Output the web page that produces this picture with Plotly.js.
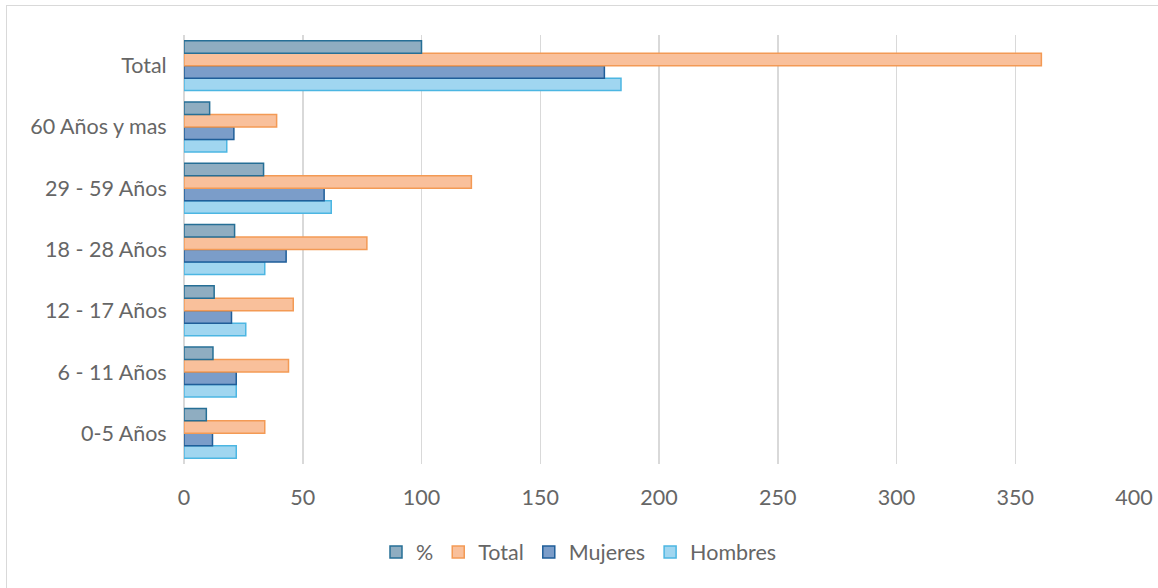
<!DOCTYPE html>
<html>
<head>
<meta charset="utf-8">
<script src="https://cdn.plot.ly/plotly-3.0.1.min.js"></script>
<style>
  html, body { margin: 0; padding: 0; background: #fff; }
  #wrap { position: relative; width: 1158px; height: 588px; overflow: hidden; }
  #chart { width: 1158px; height: 588px; }
  #frame { position: absolute; left: 6px; top: 5px; width: 1160px; height: 590px; border: 1px solid #d9d9d9; pointer-events: none; }
</style>
</head>
<body>
<div id="wrap"><div id="chart"></div><div id="frame"></div></div>
<script>
const categories = ["0-5 Años", "6 - 11 Años", "12 - 17 Años", "18 - 28 Años", "29 - 59 Años", "60 Años y mas", "Total"];
const pct      = [9.4, 12.2, 12.7, 21.3, 33.5, 10.8, 100];
const total    = [34, 44, 46, 77, 121, 39, 361];
const mujeres  = [12, 22, 20, 43, 59, 21, 177];
const hombres  = [22, 22, 26, 34, 62, 18, 184];
const xTicks   = [0, 50, 100, 150, 200, 250, 300, 350, 400];

const font = "Lato, 'Open Sans', sans-serif";
const txt = "#666666";
const fs = 21.5;

function bar(name, vals, fill, line) {
  return { type: "bar", orientation: "h", name: name, x: vals, y: categories,
    marker: { color: fill, line: { color: line, width: 1.5 } }, hoverinfo: "x+name" };
}

const data = [
  bar("Hombres", hombres, "#a0d6f0", "#4cb6e2"),
  bar("Mujeres", mujeres, "#7b9dc9", "#1f5e99"),
  bar("Total", total, "#f9c09b", "#f39a55"),
  bar("%", pct, "#8fadc1", "#266f96")
];

const layout = {
  width: 1158, height: 588,
  margin: { l: 184, r: 24, t: 35, b: 124 },
  paper_bgcolor: "#fff", plot_bgcolor: "#fff",
  barmode: "group", bargap: 0.185, bargroupgap: 0,
  font: { family: font, color: txt, size: fs },
  xaxis: {
    range: [0, 400], tickvals: xTicks, ticktext: xTicks.map(String),
    showgrid: true, gridcolor: "#d9d9d9", gridwidth: 1.5,
    zeroline: true, zerolinecolor: "#d9d9d9", zerolinewidth: 1.5,
    showline: false, ticks: "outside", ticklen: 14, tickcolor: "rgba(0,0,0,0)",
    tickfont: { family: font, size: fs, color: txt }, fixedrange: true
  },
  yaxis: {
    type: "category", categoryorder: "array", categoryarray: categories,
    showgrid: false, zeroline: false, showline: false,
    ticks: "outside", ticklen: 12, tickcolor: "rgba(0,0,0,0)",
    tickfont: { family: font, size: fs, color: txt }, fixedrange: true
  },
  legend: {
    orientation: "h", traceorder: "reversed",
    x: 0.5, xanchor: "center", xref: "container",
    y: 1 - 552 / 588, yanchor: "middle", yref: "container",
    font: { family: font, size: fs, color: txt },
    itemwidth: 30
  },
  showlegend: true
};

Plotly.newPlot("chart", data, layout, { displayModeBar: false, staticPlot: true });
</script>
</body>
</html>
